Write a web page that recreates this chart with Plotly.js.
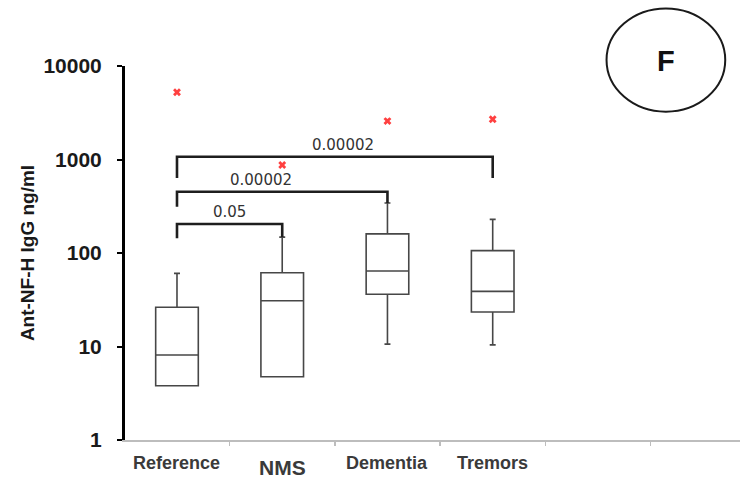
<!DOCTYPE html>
<html>
<head>
<meta charset="utf-8">
<script src="https://cdn.plot.ly/plotly-3.0.1.min.js"></script>
<style>
  html, body { margin: 0; padding: 0; background: #ffffff; }
  #chart { width: 740px; height: 479px; }
</style>
</head>
<body>
<div id="chart"></div>
<script>
// ---- data ----
const categories = ['Reference', 'NMS', 'Dementia', 'Tremors'];
const q1Values = [3.8, 4.75, 36.2, 23.4];
const medianValues = [8.1, 30.9, 64.2, 38.9];
const q3Values = [26.3, 61.5, 160, 106];
const lowerWhisker = [3.8, 4.75, 10.6, 10.4];
const upperWhisker = [60.6, 148, 343, 229];
const outlierValues = [5230, 874, 2575, 2690];

// significance brackets (category index from/to, heights in ng/ml)
const bracketFrom = [0, 0, 0];
const bracketTo = [1, 2, 3];
const bracketTop = [204, 452, 1072];
const bracketLeftEnd = [144, 313, 635];
const bracketRightEnd = [148, 343, 635];
const pValues = ['0.05', '0.00002', '0.00002'];
const pLabelX = [0.5, 0.8, 1.58];

const yTickValues = [1, 10, 100, 1000, 10000];
const yTickLabels = ['1', '10', '100', '1000', '10000'];
const boundaryTicks = [0.5, 1.5, 2.5, 3.5, 4.5];

const catIndex = categories.map((c, i) => i);

const traces = [];

traces.push({
  type: 'box',
  x: catIndex,
  q1: q1Values,
  median: medianValues,
  q3: q3Values,
  lowerfence: lowerWhisker,
  upperfence: upperWhisker,
  boxpoints: false,
  width: 0.405,
  whiskerwidth: 0.14,
  fillcolor: 'rgba(255,255,255,0)',
  line: { color: '#474747', width: 1.6 },
  hoverinfo: 'skip',
  showlegend: false
});

traces.push({
  type: 'scatter',
  mode: 'markers',
  x: catIndex,
  y: outlierValues,
  marker: { symbol: 'x', size: 7, color: '#ff4040', line: { width: 0 } },
  hoverinfo: 'skip',
  showlegend: false
});

for (let i = 0; i < bracketTop.length; i++) {
  traces.push({
    type: 'scatter',
    mode: 'lines',
    x: [bracketFrom[i], bracketFrom[i], bracketTo[i], bracketTo[i]],
    y: [bracketLeftEnd[i], bracketTop[i], bracketTop[i], bracketRightEnd[i]],
    line: { color: '#1e1e1e', width: 2.6 },
    hoverinfo: 'skip',
    showlegend: false
  });
}

const annotations = [];

categories.forEach((c, i) => {
  const big = c === 'NMS';
  annotations.push({
    text: c,
    x: i, xref: 'x',
    y: 0, yref: 'paper',
    yanchor: 'middle', xanchor: 'center',
    yshift: big ? -27.5 : -22.5,
    showarrow: false,
    font: { family: 'Liberation Sans, Arial, sans-serif', size: big ? 21 : 18, color: '#3a3a3a', weight: 'bold' }
  });
});

pValues.forEach((p, i) => {
  annotations.push({
    text: p,
    x: pLabelX[i], xref: 'x',
    y: Math.log10(bracketTop[i]), yref: 'y',
    yanchor: 'middle', xanchor: 'center',
    yshift: 12,
    showarrow: false,
    font: { family: 'DejaVu Sans, sans-serif', size: 15, color: '#333333' }
  });
});

annotations.push({
  text: '<b>F</b>',
  x: 0.88, xref: 'paper',
  y: 1.013, yref: 'paper',
  xanchor: 'center', yanchor: 'middle',
  showarrow: false,
  font: { family: 'Liberation Sans, Arial, sans-serif', size: 29, color: '#111111' }
});

const layout = {
  width: 740,
  height: 479,
  margin: { l: 125, r: 0, t: 66, b: 39 },
  paper_bgcolor: '#ffffff',
  plot_bgcolor: '#ffffff',
  showlegend: false,
  xaxis: {
    type: 'linear',
    range: [-0.494, 5.35],
    showgrid: false,
    zeroline: false,
    showline: true,
    linecolor: '#bdbdbd',
    linewidth: 1.5,
    tickvals: boundaryTicks,
    ticktext: boundaryTicks.map(() => ''),
    ticks: 'outside',
    ticklen: 4,
    tickwidth: 1.5,
    tickcolor: '#bdbdbd',
    fixedrange: true
  },
  yaxis: {
    type: 'log',
    range: [0, 4],
    showgrid: false,
    zeroline: false,
    showline: true,
    linecolor: '#000000',
    linewidth: 3,
    tickvals: yTickValues,
    ticktext: yTickLabels,
    ticks: 'outside',
    ticklen: 5,
    tickwidth: 2,
    tickcolor: '#000000',
    ticklabelstandoff: 11,
    tickfont: { family: 'Liberation Sans, Arial, sans-serif', size: 21, color: '#1a1a1a', weight: 'bold' },
    title: {
      text: '<b>Ant-NF-H IgG ng/ml</b>',
      font: { family: 'Liberation Sans, Arial, sans-serif', size: 19, color: '#1a1a1a' },
      standoff: 4
    },
    fixedrange: true
  },
  shapes: [{
    type: 'circle',
    xref: 'paper', yref: 'paper',
    x0: 0.783, x1: 0.976,
    y0: 0.878, y1: 1.154,
    line: { color: '#1a1a1a', width: 2 },
    fillcolor: 'rgba(0,0,0,0)'
  }],
  annotations: annotations
};

Plotly.newPlot('chart', traces, layout, { displayModeBar: false, staticPlot: true });
</script>
</body>
</html>
